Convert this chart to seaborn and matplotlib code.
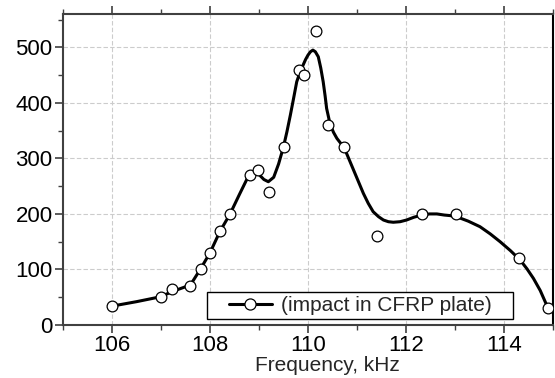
import numpy as np
import pandas as pd
import matplotlib
matplotlib.use("Agg")
import matplotlib.pyplot as plt
from matplotlib.lines import Line2D
from matplotlib.patches import Rectangle
from matplotlib.ticker import MultipleLocator
import seaborn as sns

# measured points
freq_khz = [106.0, 107.0, 107.22, 107.6, 107.81, 108.0, 108.2, 108.41, 108.81, 108.97,
            109.21, 109.51, 109.82, 109.91, 110.17, 110.41, 110.73, 111.41, 112.32,
            113.02, 114.31, 114.9]
amplitude = [35, 50, 65, 70, 100, 130, 170, 200, 270, 280,
             240, 320, 460, 450, 530, 360, 320, 160, 200,
             200, 120, 30]

# fitted curve
curve_x = [106.0, 106.5, 107.0, 107.22, 107.6, 107.8, 108.0, 108.2, 108.41, 108.6,
           108.8, 108.9, 109.0, 109.1, 109.19, 109.3, 109.4, 109.5, 109.57, 109.64,
           109.71, 109.77, 109.84, 109.9, 109.95, 110.0, 110.05, 110.1, 110.15, 110.21,
           110.26, 110.31, 110.35, 110.38, 110.45, 110.52, 110.59, 110.66, 110.73, 110.83,
           110.93, 111.03, 111.13, 111.23, 111.33, 111.44, 111.54, 111.64, 111.74, 111.88,
           112.01, 112.16, 112.32, 112.48, 112.63, 112.78, 112.9, 113.03, 113.27, 113.51,
           113.72, 113.92, 114.13, 114.33, 114.47, 114.6, 114.74, 114.87, 114.92]
curve_y = [34, 42, 51, 60, 72, 100, 130, 168, 200, 235,
           271, 276, 271, 262, 258, 266, 290, 321, 348, 378,
           410, 438, 456, 468, 478, 486, 492, 495, 492, 483,
           463, 438, 412, 390, 362, 347, 336, 328, 321, 300,
           279, 258, 237, 219, 204, 195, 189, 186, 185, 186,
           189, 194, 198, 200, 200, 198, 197, 195, 187, 177,
           164, 150, 134, 117, 101, 84, 62, 36, 28]

legend_label = "(impact in CFRP plate)"
x_label = "Frequency, kHz"

sns.set_style("white")
plt.rcParams['font.family'] = ['Liberation Sans', 'DejaVu Sans']

fig = plt.figure(figsize=(5.55, 3.78), dpi=100)
ax = fig.add_axes([63/555, 53/378, 490/555, 311/378])

ax.grid(True, color="#cccccc", linestyle=(0, (4, 2)), linewidth=0.8)
ax.set_axisbelow(True)

sns.lineplot(x=curve_x, y=curve_y, sort=False, color="black", linewidth=2.2, ax=ax, zorder=3)
sns.scatterplot(x=freq_khz, y=amplitude, s=60, color="white", edgecolor="black",
                linewidth=0.9, ax=ax, zorder=4)

ax.set_xlim(105, 115)
ax.set_ylim(0, 560)
ax.xaxis.set_major_locator(MultipleLocator(2))
ax.xaxis.set_minor_locator(MultipleLocator(1))
ax.yaxis.set_major_locator(MultipleLocator(100))
ax.yaxis.set_minor_locator(MultipleLocator(50))

for s in ax.spines.values():
    s.set_visible(True)
    s.set_linewidth(1.5)
    s.set_color("#404040")
ax.spines['right'].set_color("black")

ax.tick_params(axis='both', which='major', direction='out', length=6, width=1.2,
               color="#404040", labelsize=16, labelcolor="black", pad=1.5)
ax.tick_params(axis='both', which='minor', direction='out', length=3.5, width=1.0,
               color="#404040")
ax.tick_params(axis='x', which='both', top=True, bottom=True, labeltop=False)
ax.tick_params(axis='y', which='both', left=True, right=False)

ax.set_xlabel(x_label, fontsize=15, labelpad=-1)
ax.xaxis.set_label_coords(0.54, -0.1)
ax.set_ylabel("")

# legend frame (wider than the content, as in the original)
ax.add_patch(Rectangle((0.294, 0.019), 0.624, 0.087, transform=ax.transAxes,
                       facecolor="white", edgecolor="black", linewidth=1.0, zorder=5))
handle = Line2D([], [], color="black", linewidth=2.2, marker='o', markersize=8,
                markerfacecolor="white", markeredgecolor="black", markeredgewidth=0.9)
leg = ax.legend([handle], [legend_label], loc='center', bbox_to_anchor=(0.606, 0.0625),
                fontsize=15, frameon=False, handlelength=2.1, borderpad=0.12,
                handletextpad=0.4, borderaxespad=0)
leg.set_zorder(6)

fig.savefig("out.png", dpi=100)
